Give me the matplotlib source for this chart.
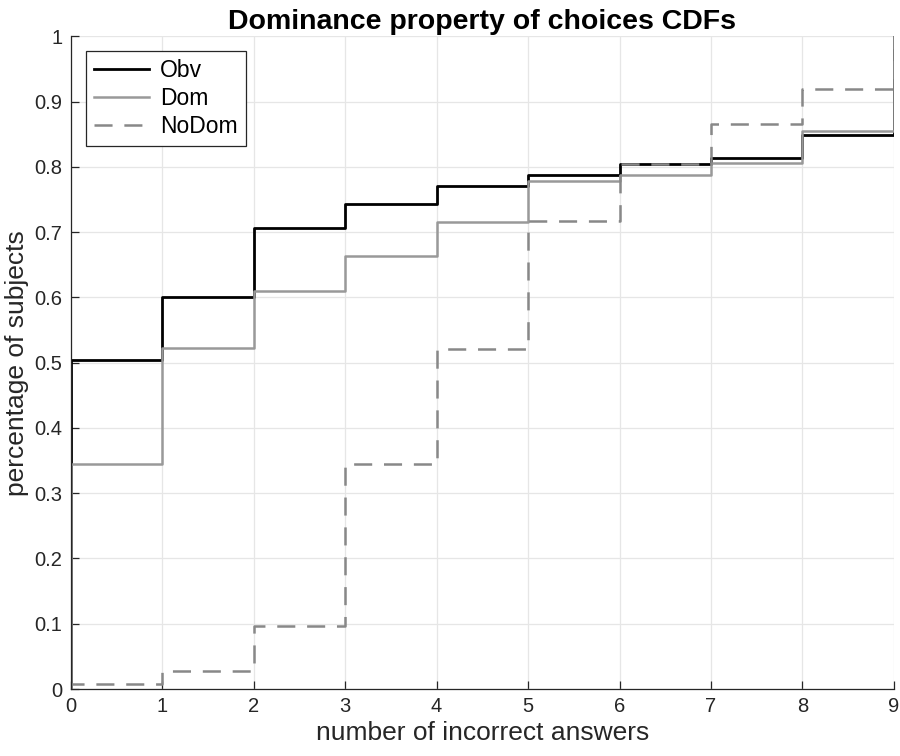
"""
Dominance property CDF step plot
"""
import numpy as np
from matplotlib import pyplot as plt

plt.rcParams.update({'font.family': ['Liberation Sans', 'DejaVu Sans']})
plt.rcParams.update({'lines.scale_dashes': False})

# number of incorrect answers and CDF values per group
answers = [0, 1, 2, 3, 4, 5, 6, 7, 8, 9]
obv = [0.504, 0.601, 0.707, 0.743, 0.770, 0.787, 0.805, 0.814, 0.849, 1.0]
dom = [0.345, 0.522, 0.610, 0.663, 0.716, 0.779, 0.788, 0.806, 0.855, 1.0]
nodom = [0.008, 0.027, 0.097, 0.345, 0.521, 0.717, 0.805, 0.866, 0.919, 1.0]
labels = ['Obv', 'Dom', 'NoDom']

x = np.array([answers[0]] + answers)

fig = plt.figure(figsize=(9, 7.56), dpi=100)
ax = fig.add_axes([0.0786, 0.0886, 0.9147, 0.8633])

ax.plot(x, [0] + obv, drawstyle='steps-post', color='black', lw=2.0, label=labels[0])
ax.plot(x, [0] + dom, drawstyle='steps-post', color='#999999', lw=1.8, label=labels[1])
ax.plot(x, [0] + nodom, drawstyle='steps-post', color='#888888', lw=1.8,
        dashes=(13, 8.5), label=labels[2])

ax.set_xlim(0, 9)
ax.set_ylim(0, 1)
ax.set_xticks(answers)
ax.set_yticks(np.round(np.arange(0, 1.01, 0.1), 1))
ax.set_yticklabels(['0', '0.1', '0.2', '0.3', '0.4', '0.5', '0.6', '0.7', '0.8', '0.9', '1'])
ax.grid(True, color='#e6e6e6', lw=0.9)
ax.set_axisbelow(True)
for side in ['top', 'right']:
    ax.spines[side].set_visible(False)
for side in ['left', 'bottom']:
    ax.spines[side].set_color('#262626')
    ax.spines[side].set_linewidth(0.9)
ax.tick_params(direction='in', length=6, width=0.9, colors='#262626',
               labelsize=14.5, pad=6)

ax.set_xlabel('number of incorrect answers', fontsize=19, color='#262626', labelpad=3)
ax.set_ylabel('percentage of subjects', fontsize=19, color='#262626', labelpad=4)
ax.set_title('Dominance property of choices CDFs', fontsize=20.5, fontweight='bold', pad=5)

leg = ax.legend(loc='upper left', bbox_to_anchor=(0.018, 0.977), fontsize=16.5,
                fancybox=False, framealpha=1, edgecolor='#262626',
                handlelength=2.4, handletextpad=0.5, borderpad=0.35,
                labelspacing=0.22, borderaxespad=0)
leg.get_frame().set_linewidth(0.9)

plt.savefig('out.png', dpi=100)
